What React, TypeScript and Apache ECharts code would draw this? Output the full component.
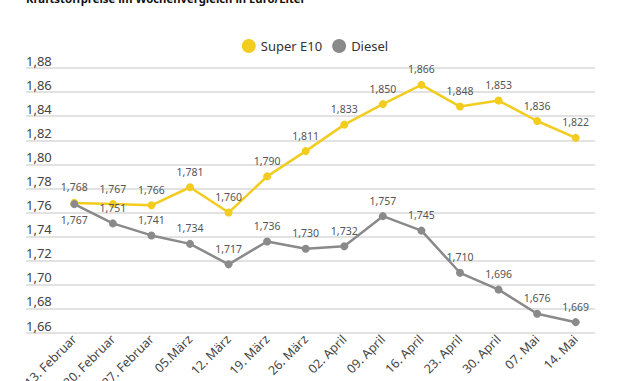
import React, { useEffect, useRef } from "react";
import * as echarts from "echarts";

const categories = [
  "13. Februar", "20. Februar", "27. Februar", "05.März", "12. März", "19. März", "26. März",
  "02. April", "09. April", "16. April", "23. April", "30. April", "07. Mai", "14. Mai",
];
const superE10 = [1.768, 1.767, 1.766, 1.781, 1.76, 1.79, 1.811, 1.833, 1.85, 1.866, 1.848, 1.853, 1.836, 1.822];
const diesel = [1.767, 1.751, 1.741, 1.734, 1.717, 1.736, 1.73, 1.732, 1.757, 1.745, 1.71, 1.696, 1.676, 1.669];
const yMin = 1.66;
const yMax = 1.88;
const yStep = 0.02;

const YELLOW = "#f2cc1f";
const GRAY = "#8a8a8a";
const FONT = "Noto Sans";

const fmt3 = (v: number) => v.toFixed(3).replace(".", ",");

export default function App() {
  const ref = useRef<HTMLDivElement>(null);
  useEffect(() => {
    const chart = echarts.init(ref.current!, null, { renderer: "svg" });
    const labelStyle = { show: true, position: "top" as const, distance: 6, fontSize: 10.5, color: "#555", fontFamily: FONT, formatter: (p: any) => fmt3(p.value) };
    chart.setOption({
      animation: false,
      backgroundColor: "#fff",
      textStyle: { fontFamily: FONT },
      graphic: [
        { type: "text", left: 26, top: -7, style: { text: "Kraftstoffpreise im Wochenvergleich in Euro/Liter", fontSize: 11.3, fontWeight: "bold", fill: "#111", fontFamily: FONT } },
      ],
      legend: {
        top: 34,
        left: "center",
        itemGap: 10,
        itemWidth: 14,
        itemHeight: 14,
        icon: "circle",
        textStyle: { fontSize: 13, color: "#333", fontFamily: FONT },
        data: ["Super E10", "Diesel"],
      },
      grid: [
        { left: 55, right: 35, top: 68, bottom: 48, containLabel: false, outerBoundsMode: "none" },
        { left: 26, right: 35, top: 68, bottom: 48, containLabel: false, outerBoundsMode: "none" },
      ],
      xAxis: [
        {
          type: "category",
          gridIndex: 0,
          data: categories,
          boundaryGap: true,
          axisLine: { show: false },
          axisTick: { show: false },
          axisLabel: { rotate: 45, fontSize: 12.5, color: "#444", fontFamily: FONT, margin: 4, interval: 0 },
        },
        { type: "category", gridIndex: 1, data: ["a"], show: false },
      ],
      yAxis: [
        { type: "value", gridIndex: 0, min: yMin, max: yMax, interval: yStep, show: false, splitLine: { show: false } },
        {
          type: "value",
          gridIndex: 1,
          min: yMin,
          max: yMax,
          interval: yStep,
          axisLine: { show: false },
          axisTick: { show: false },
          splitLine: { show: true, lineStyle: { color: "#d9d9d9", width: 1.5 } },
          axisLabel: {
            inside: true,
            margin: 0,
            align: "left",
            verticalAlign: "bottom",
            padding: [0, 0, 1, 0],
            fontSize: 13,
            color: "#444",
            fontFamily: FONT,
            formatter: (v: number) => v.toFixed(2).replace(".", ","),
          },
        },
      ],
      series: [
        {
          name: "Super E10",
          type: "line",
          xAxisIndex: 0,
          yAxisIndex: 0,
          data: superE10,
          symbol: "circle",
          symbolSize: 8,
          itemStyle: { color: YELLOW },
          lineStyle: { color: YELLOW, width: 2.5 },
          label: labelStyle,
          z: 2,
        },
        {
          name: "Diesel",
          type: "line",
          xAxisIndex: 0,
          yAxisIndex: 0,
          data: diesel.map((v, i) =>
            i === 0 ? { value: v, label: { position: "bottom", distance: 6 } } : v
          ),
          symbol: "circle",
          symbolSize: 8,
          itemStyle: { color: GRAY },
          lineStyle: { color: GRAY, width: 2.5 },
          label: labelStyle,
          z: 3,
        },
      ],
    });
    return () => chart.dispose();
  }, []);
  return <div ref={ref} style={{ position: "absolute", left: 0, top: 0, width: 630, height: 381 }} />;
}
